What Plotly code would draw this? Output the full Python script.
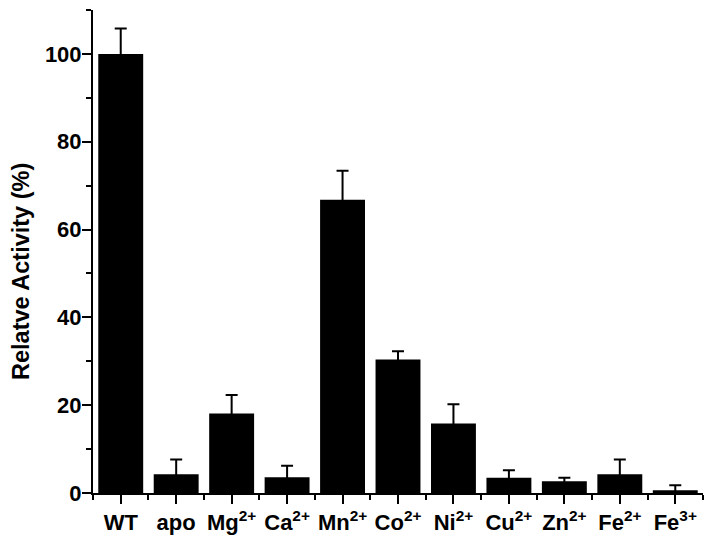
import plotly.graph_objects as go

categories = ["WT", "apo", "Mg<sup>2+</sup>", "Ca<sup>2+</sup>", "Mn<sup>2+</sup>", "Co<sup>2+</sup>",
              "Ni<sup>2+</sup>", "Cu<sup>2+</sup>", "Zn<sup>2+</sup>", "Fe<sup>2+</sup>", "Fe<sup>3+</sup>"]
activity = [100, 4.25, 18.1, 3.6, 66.8, 30.4, 15.8, 3.5, 2.65, 4.25, 0.6]
error = [5.8, 3.4, 4.2, 2.6, 6.6, 1.9, 4.4, 1.7, 0.8, 3.4, 1.15]
y_ticks = [0, 20, 40, 60, 80, 100]

x_pos = list(range(len(categories)))
# lower arm hidden inside the black bar (never below zero)
error_minus = [min(e, v) for e, v in zip(error, activity)]

W, H = 714, 542
ml, mr, mt, mb = 93, 11, 10, 49

fig = go.Figure()
fig.add_trace(go.Bar(
    x=x_pos, y=activity,
    marker=dict(color="black", line=dict(width=0)),
    width=0.81,
    error_y=dict(type="data", array=error, arrayminus=error_minus, symmetric=False,
                 color="black", thickness=2, width=6),
))

font_family = "Liberation Sans, Arial, sans-serif"
fig.update_layout(
    width=W, height=H,
    margin=dict(l=ml, r=mr, t=mt, b=mb, pad=0, autoexpand=False),
    plot_bgcolor="white", paper_bgcolor="white",
    showlegend=False,
    font=dict(family=font_family, color="black"),
    xaxis=dict(
        range=[-0.5, len(categories) - 0.5],
        tickvals=x_pos, ticktext=["<b>%s</b>" % c for c in categories],
        ticks="outside", ticklen=9, tickwidth=2, tickcolor="black",
        minor=dict(dtick=1, tick0=0.5, ticks="outside", ticklen=5, tickwidth=2, tickcolor="black"),
        showline=True, linewidth=2, linecolor="black",
        showgrid=False, zeroline=False, automargin=False,
        tickfont=dict(size=22, family=font_family, color="black"),
    ),
    yaxis=dict(
        range=[0, 110],
        tickvals=y_ticks, ticktext=["<b>%d</b>" % v for v in y_ticks],
        ticks="outside", ticklen=9, tickwidth=2, tickcolor="black",
        minor=dict(dtick=10, tick0=0, ticks="outside", ticklen=5, tickwidth=2, tickcolor="black"),
        showline=True, linewidth=2, linecolor="black",
        showgrid=False, zeroline=False, automargin=False,
        ticklabelstandoff=-4,
        tickfont=dict(size=22, family=font_family, color="black"),
    ),
    annotations=[dict(
        text="<b>Relatve Activity (%)</b>",
        xref="paper", yref="paper",
        x=(21 - ml) / (W - ml - mr), y=1 - (272 - mt) / (H - mt - mb),
        xanchor="center", yanchor="middle",
        textangle=-90, showarrow=False,
        font=dict(size=23.5, family=font_family, color="black"),
    )],
)

fig.write_html("out.html", config={"displayModeBar": False},
               post_script="document.body.style.margin='0px';document.body.style.overflow='hidden';")
